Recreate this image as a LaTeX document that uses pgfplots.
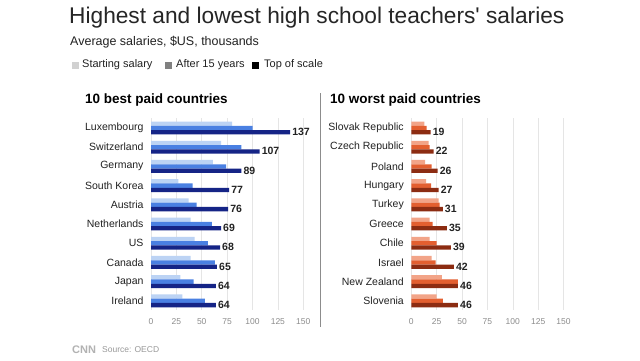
\documentclass[border=0pt]{standalone}
\usepackage{fontspec}
\setmainfont{Liberation Sans}
\usepackage{pgfplots}
\pgfplotsset{compat=1.18}
\usepackage{pgfplotstable}

\definecolor{bA}{HTML}{BCD3F4}
\definecolor{bB}{HTML}{4A80E2}
\definecolor{bC}{HTML}{152486}
\definecolor{rA}{HTML}{F2A488}
\definecolor{rB}{HTML}{E35F30}
\definecolor{rC}{HTML}{8C2C12}
\definecolor{txt}{HTML}{222222}

\pgfplotstableread{
idx start after top
0 80 100 137
1 69 89 107
2 61 74 89
3 27 41 77
4 37 45 76
5 39 60 69
6 43 56 68
7 39 63 65
8 29 42 64
9 31 53 64
}\best

\pgfplotstableread{
idx start after top
0 13 15 19
1 17 18 22
2 13.5 20 26
3 14.5 19.5 27
4 27 28 31
5 18 21 35
6 18 25 39
7 20 24 42
8 30 46 46
9 25 31 46
}\worst

\pgfplotsset{panel/.style={
  scale only axis, width=152.25pt, height=192pt,
  anchor=south west,
  xmin=0, xmax=150, ymin=-0.5, ymax=9.5, y dir=reverse,
  xbar, bar width=4.3pt,
  axis line style={draw=none}, major tick length=0pt,
  xtick={0,25,...,150}, ytick={0,...,9},
  xmajorgrids, grid style={draw=black!10, line width=0.6pt},
  xticklabel style={font=\fontsize{8.5}{10}\selectfont, text=black!45, yshift=-5pt},
  yticklabel style={font=\fontsize{10.5}{12}\selectfont, text=txt, anchor=east, xshift=-4pt},
  /pgf/number format/assume math mode=true,
  clip=false,
  every node near coord/.style={font=\bfseries\fontsize{10.5}{12}\selectfont, text=txt, anchor=west, inner sep=2pt, yshift=-4pt},
}}

\begin{document}
\begin{tikzpicture}[x=1pt,y=1pt]
\path[use as bounding box, fill=white] (0,0) rectangle (640,360);
\node[anchor=west, inner sep=0, font=\fontsize{22.7}{24}\selectfont, text=black!85] at (69,360-18) {Highest and lowest high school teachers\textquotesingle{} salaries};
\node[anchor=west, inner sep=0, font=\fontsize{12.5}{14}\selectfont, text=txt] at (70,360-42) {Average salaries, \$US, thousands};
% legend
\fill[black!18] (72,360-68.5) rectangle (79,360-61.5);
\node[anchor=west, inner sep=0, font=\fontsize{11}{12}\selectfont, text=txt] at (82,360-65) {Starting salary};
\fill[black!50] (165,360-68.5) rectangle (172,360-61.5);
\node[anchor=west, inner sep=0, font=\fontsize{11}{12}\selectfont, text=txt] at (176,360-65) {After 15 years};
\fill[black] (252,360-68.5) rectangle (259,360-61.5);
\node[anchor=west, inner sep=0, font=\fontsize{11}{12}\selectfont, text=txt] at (264,360-65) {Top of scale};
% panel titles
\node[anchor=west, inner sep=0, font=\bfseries\fontsize{13.5}{15}\selectfont, text=black] at (85,360-100) {10 best paid countries};
\node[anchor=west, inner sep=0, font=\bfseries\fontsize{13.5}{15}\selectfont, text=black] at (330,360-100) {10 worst paid countries};
\draw[black!45, line width=0.8pt] (320,360-93) -- (320,360-327);

\begin{axis}[panel, at={(151pt,49.6pt)},
  yticklabels={Luxembourg,Switzerland,Germany,South Korea,Austria,Netherlands,US,Canada,Japan,Ireland}]
\addplot[fill=bA, draw=none, bar shift=4.3pt] table[x=start,y=idx]{\best};
\addplot[fill=bB, draw=none, bar shift=0pt] table[x=after,y=idx]{\best};
\addplot[fill=bC, draw=none, bar shift=-4.3pt, nodes near coords] table[x=top,y=idx]{\best};
\end{axis}

\begin{axis}[panel, at={(411.3pt,49.6pt)},
  yticklabels={Slovak Republic,Czech Republic,Poland,Hungary,Turkey,Greece,Chile,Israel,New Zealand,Slovenia}]
\addplot[fill=rA, draw=none, bar shift=4.3pt] table[x=start,y=idx]{\worst};
\addplot[fill=rB, draw=none, bar shift=0pt] table[x=after,y=idx]{\worst};
\addplot[fill=rC, draw=none, bar shift=-4.3pt, nodes near coords] table[x=top,y=idx]{\worst};
\end{axis}

% footer
\node[anchor=west, inner sep=0, font=\bfseries\fontsize{11}{12}\selectfont, text=black!30] at (72,360-350) {CNN};
\node[anchor=west, inner sep=0, font=\fontsize{8.5}{10}\selectfont, text=black!40] at (102,360-350) {Source: OECD};
\end{tikzpicture}
\end{document}
